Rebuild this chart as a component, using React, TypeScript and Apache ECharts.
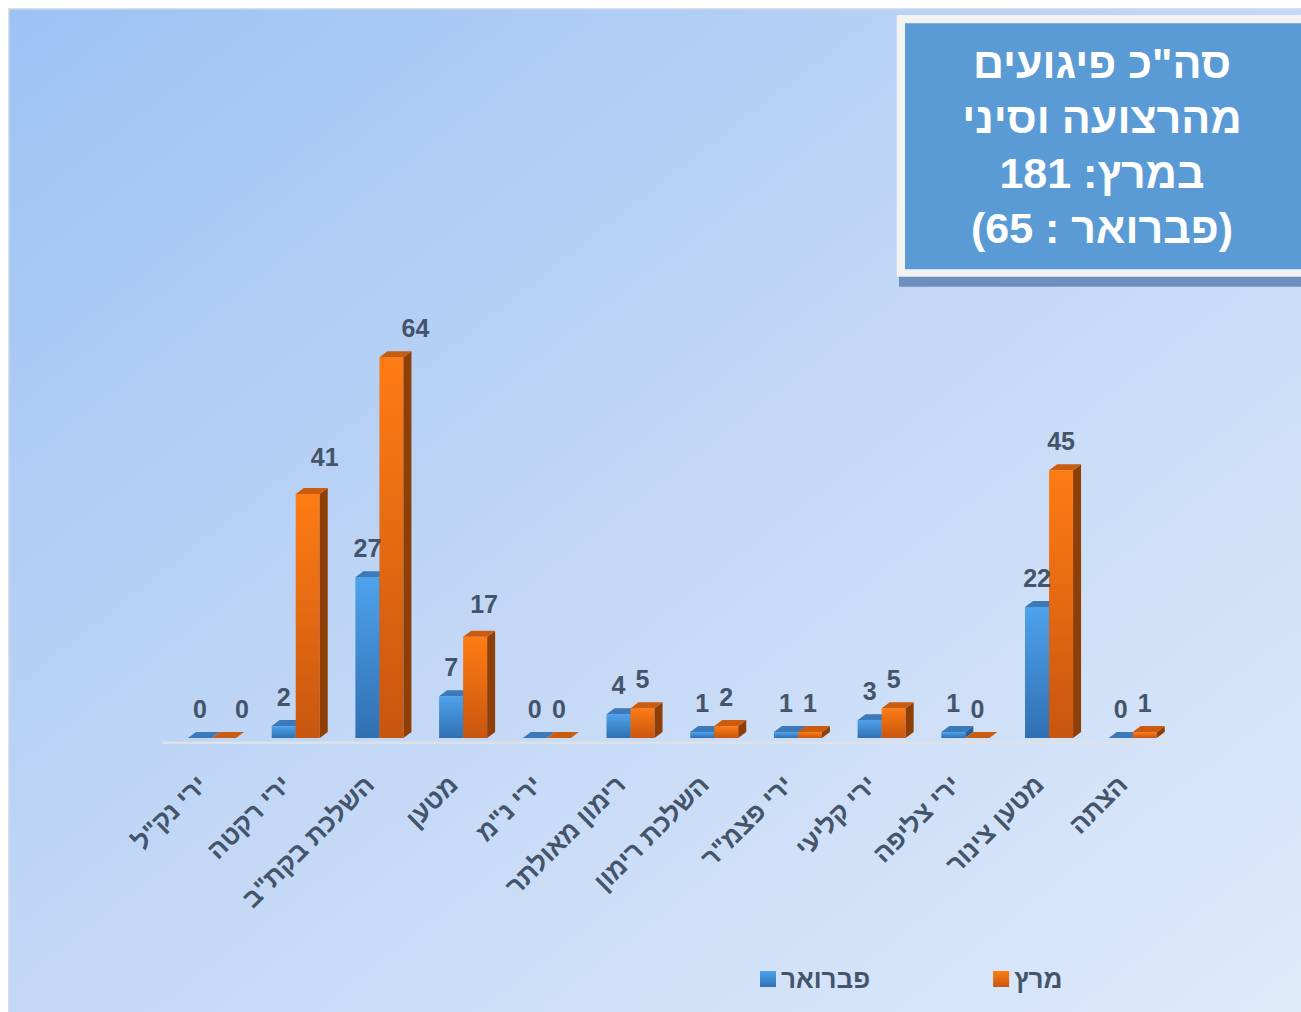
import React, { useEffect, useRef } from 'react';
import * as echarts from 'echarts';

const categories = ['ירי נק"ל', 'ירי רקטה', 'השלכת בקת"ב', 'מטען', 'ירי נ"מ', 'רימון מאולתר', 'השלכת רימון', 'ירי פצמ"ר', 'ירי קליעי', 'ירי צליפה', 'מטען צינור', 'הצתה'];
const february = [0, 2, 27, 7, 0, 4, 1, 1, 3, 1, 22, 0];
const march = [0, 41, 64, 17, 0, 5, 2, 1, 5, 0, 45, 1];
const seriesNames = ['פברואר', 'מרץ'];
const titleLines = ['סה"כ פיגועים', 'מהרצועה וסיני', 'במרץ: 181', '(פברואר : 65)'];
const yMax = 70;

// Style only: hand-placed label nudges (px) of the original slide, keyed by category index
const marchLabelNudge: Record<number, number[]> = { 0: [18, 0], 1: [17, -8], 2: [24, 0], 3: [9, -4] };
const febLabelNudge: Record<number, number[]> = {};

const FONT = '"Liberation Sans", Arial, "DejaVu Sans", sans-serif';
const LABEL_COLOR = '#44546a';
const DX = 8;
const DY = 6;
const BAR_FRAC = 0.287;
const LABEL_GAP = 29;

const blue = { front: ['#4ea2ec', '#3070b2'], top: '#3b79b9', side: '#2b5e96' };
const orange = { front: ['#ff7c14', '#c8560f'], top: '#c95c0f', side: '#8e3f08' };

function grad(c: string[]) {
  return new echarts.graphic.LinearGradient(0, 0, 0, 1, [
    { offset: 0, color: c[0] },
    { offset: 1, color: c[1] },
  ]);
}

function makeRender(side: number, pal: any, nudge: Record<number, number[]>) {
  return (params: any, api: any) => {
    const ci = api.value(0);
    const v = api.value(1);
    const base = api.coord([ci, 0]);
    const top = api.coord([ci, v]);
    const band = api.size([1, 0])[0];
    const w = band * BAR_FRAC;
    const x0 = side === 0 ? base[0] - w : base[0];
    const x1 = x0 + w;
    const yb = base[1];
    const yt = top[1];
    const z = side;
    const nd = nudge[ci] || [0, 0];
    const children: any[] = [];
    if (yb - yt > 0.5) {
      children.push({
        type: 'rect',
        z2: z,
        shape: { x: x0, y: yt, width: w, height: yb - yt },
        style: { fill: grad(pal.front) },
      });
    }
    children.push({
      type: 'polygon',
      z2: z,
      shape: { points: [[x1, yt], [x1 + DX, yt - DY], [x1 + DX, yb - DY], [x1, yb]] },
      style: { fill: pal.side },
    });
    children.push({
      type: 'polygon',
      z2: z,
      shape: { points: [[x0, yt], [x1, yt], [x1 + DX, yt - DY], [x0 + DX, yt - DY]] },
      style: { fill: pal.top },
    });
    children.push({
      type: 'text',
      z2: 10,
      style: {
        text: String(v),
        x: (x0 + x1) / 2 + nd[0],
        y: yt - LABEL_GAP + nd[1],
        align: 'center',
        verticalAlign: 'middle',
        textAlign: 'center',
        textVerticalAlign: 'middle',
        font: `bold 25px ${FONT}`,
        fill: LABEL_COLOR,
      },
    });
    return { type: 'group', children };
  };
}

export default function App() {
  const ref = useRef<HTMLDivElement>(null);
  useEffect(() => {
    if (!ref.current) return;
    const chart = echarts.init(ref.current, undefined, { renderer: 'svg' });
    const W = 1293;
    const H = 1004;
    const titleY = [55, 110, 165, 220];
    const titleFont = `bold 43px ${FONT}`;
    chart.setOption({
      animation: false,
      grid: { left: 162.15, right: 126.4, top: 313.5, bottom: 274 },
      xAxis: {
        type: 'category',
        data: categories,
        axisLine: { show: false },
        axisTick: { show: false },
        splitLine: { show: false },
        axisLabel: {
          interval: 0,
          rotate: 45,
          margin: 32,
          padding: [0, 14, 0, 0],
          color: LABEL_COLOR,
          fontSize: 26,
          fontWeight: 'bold',
          fontFamily: FONT,
        },
      },
      yAxis: { type: 'value', min: 0, max: yMax, show: false },
      legend: {
        left: 747,
        top: 953,
        itemWidth: 16,
        itemHeight: 16,
        itemGap: 123,
        icon: 'rect',
        data: seriesNames,
        textStyle: { color: LABEL_COLOR, fontSize: 26, fontWeight: 'bold', fontFamily: FONT },
      },
      graphic: [
        {
          type: 'rect',
          z: -10,
          silent: true,
          shape: { x: 0.75, y: 0.75, width: W + 10, height: H + 10 },
          style: {
            fill: new echarts.graphic.LinearGradient(0, 0, 1, 1, [
              { offset: 0, color: '#9cc2f4' },
              { offset: 0.5, color: '#c3d8f6' },
              { offset: 1, color: '#dfeafa' },
            ]),
            stroke: '#d9dee6',
            lineWidth: 1.5,
          },
        },
        {
          type: 'line',
          z: 1,
          silent: true,
          shape: { x1: 155, y1: 734.7, x2: 1162, y2: 734.7 },
          style: { stroke: '#dde2e8', lineWidth: 2.5 },
        },
        {
          type: 'rect',
          z: 20,
          shape: { x: 891, y: 20, width: 420, height: 258.7 },
          style: { fill: '#6d8fbf' },
        },
        {
          type: 'rect',
          z: 21,
          shape: { x: 888.7, y: 7, width: 420, height: 261.7 },
          style: { fill: '#f2f2f2' },
        },
        {
          type: 'rect',
          z: 22,
          shape: { x: 897, y: 15.3, width: 420, height: 246 },
          style: { fill: '#5b9bd5' },
        },
        ...titleLines.map((t, i) => ({
          type: 'text',
          z: 23,
          style: {
            text: t,
            x: 1094,
            y: titleY[i],
            align: 'center',
            verticalAlign: 'middle',
            textAlign: 'center',
            textVerticalAlign: 'middle',
            font: titleFont,
            fill: '#ffffff',
          },
        })),
      ],
      series: [
        {
          type: 'custom',
          name: seriesNames[0],
          z: 2,
          itemStyle: { color: grad(blue.front) },
          renderItem: makeRender(0, blue, febLabelNudge),
          encode: { x: 0, y: 1 },
          data: february.map((v, i) => [i, v]),
        },
        {
          type: 'custom',
          name: seriesNames[1],
          z: 2,
          itemStyle: { color: grad(orange.front) },
          renderItem: makeRender(1, orange, marchLabelNudge),
          encode: { x: 0, y: 1 },
          data: march.map((v, i) => [i, v]),
        },
      ],
    });
    return () => chart.dispose();
  }, []);
  return (
    <div
      ref={ref}
      style={{ position: 'absolute', left: 8, top: 8, width: 1293, height: 1004 }}
    />
  );
}
